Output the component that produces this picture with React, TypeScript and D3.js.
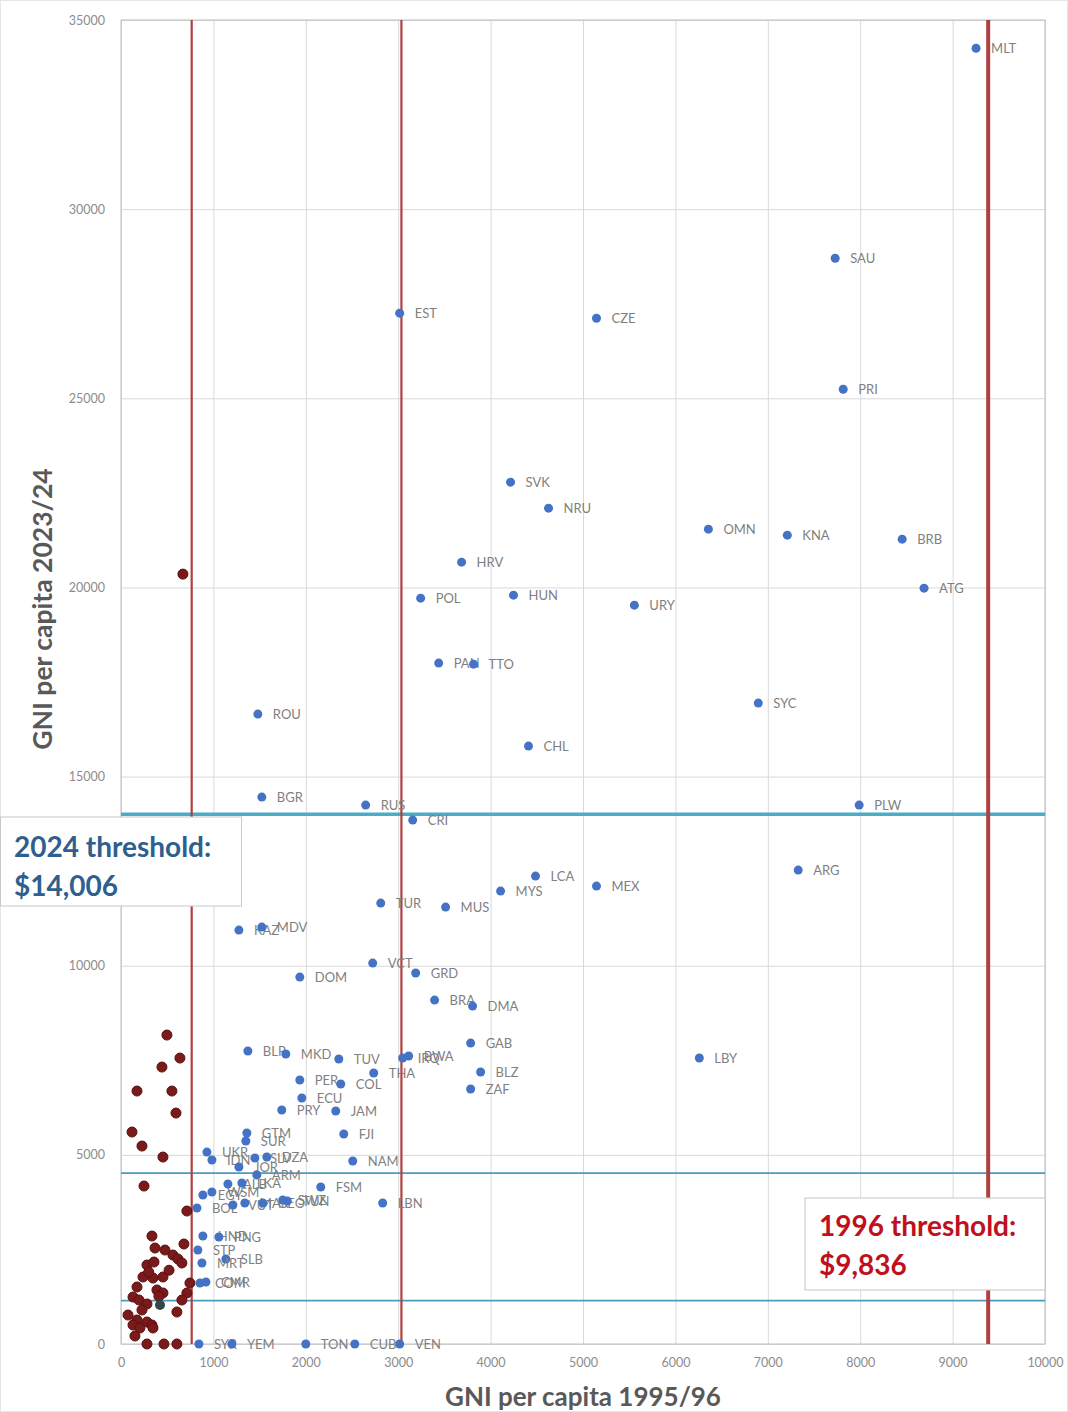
import { useEffect, useRef } from 'react'
import * as d3 from 'd3'

// Countries that were above the 1996 low-income line (labelled, blue)
const midCodes = [
  'MLT', 'SAU', 'EST', 'CZE', 'PRI', 'SVK', 'NRU', 'OMN', 'KNA', 'BRB',
  'HRV', 'ATG', 'POL', 'HUN', 'URY', 'PAN', 'TTO', 'SYC', 'ROU', 'CHL',
  'BGR', 'RUS', 'PLW', 'CRI', 'ARG', 'LCA', 'MEX', 'MYS', 'TUR', 'MUS',
  'KAZ', 'MDV', 'VCT', 'DOM', 'GRD', 'BRA', 'DMA', 'GAB', 'BLR', 'MKD',
  'TUV', 'IRQ', 'BWA', 'LBY', 'THA', 'BLZ', 'PER', 'COL', 'ZAF', 'ECU',
  'PRY', 'JAM', 'GTM', 'SUR', 'FJI', 'UKR', 'IDN', 'JOR', 'SLV', 'DZA',
  'ARM', 'NAM', 'EGY', 'WSM', 'ALB', 'LKA', 'FSM', 'BOL', 'VUT', 'MAR',
  'GEO', 'SWZ', 'TUN', 'LBN', 'HND', 'PNG', 'STP', 'SLB', 'MRT', 'COM',
  'CMR', 'SYR', 'YEM', 'TON', 'CUB', 'VEN',
]
const midGni1996 = [
  9254, 7729, 3016, 5146, 7816, 4216, 4627, 6357, 7211, 8454,
  3686, 8691, 3243, 4248, 5556, 3438, 3816, 6897, 1481, 4410,
  1524, 2648, 7989, 3157, 7329, 4486, 5146, 4108, 2811, 3513,
  1276, 1524, 2724, 1935, 3189, 3394, 3805, 3784, 1373, 1784,
  2357, 3048, 3113, 6259, 2735, 3892, 1935, 2378, 3784, 1957,
  1740, 2324, 1362, 1351, 2411, 930, 984, 1276, 1449, 1578,
  1470, 2508, 886, 984, 1157, 1308, 2162, 822, 1211, 1340,
  1535, 1751, 1800, 2832, 886, 1059, 832, 1135, 876, 854,
  919, 843, 1200, 2000, 2530, 3016,
]
const midGni2024 = [
  34253, 28703, 27250, 27117, 25240, 22782, 22095, 21540, 21382, 21276,
  20668, 19981, 19717, 19796, 19532, 17999, 17972, 16942, 16651, 15805,
  14457, 14246, 14246, 13849, 12528, 12369, 12105, 11973, 11656, 11550,
  10942, 11021, 10070, 9700, 9806, 9092, 8933, 7955, 7744, 7665,
  7533, 7559, 7612, 7559, 7163, 7189, 6978, 6872, 6740, 6502,
  6185, 6158, 5577, 5365, 5550, 5074, 4863, 4678, 4916, 4942,
  4467, 4837, 3938, 4017, 4229, 4255, 4150, 3594, 3674, 3727,
  3727, 3806, 3780, 3727, 2854, 2828, 2484, 2247, 2141, 1612,
  1639, 0, 0, 0, 0, 0,
]

// Countries that were low income in 1996 (unlabelled, dark red)
const lowGni1996 = [
  497, 638, 443, 173, 551, 595, 119, 227, 454, 249,
  713, 335, 681, 368, 476, 562, 616, 659, 281, 357,
  238, 346, 454, 746, 173, 389, 454, 713, 130, 195,
  281, 659, 76, 173, 227, 281, 335, 605, 130, 205,
  346, 151, 281, 465, 605, 670, 300, 520, 410,
]
const lowGni2024 = [
  8167, 7559, 7321, 6687, 6687, 6105, 5603, 5233, 4942, 4176,
  3515, 2854, 2643, 2537, 2484, 2352, 2247, 2141, 2088, 2167,
  1771, 1744, 1771, 1612, 1507, 1427, 1348, 1348, 1242, 1163,
  1057, 1163, 766, 634, 899, 581, 502, 846, 502, 423,
  423, 211, 0, 0, 0, 20352, 1900, 1950, 1260,
]
const otherGni1996 = [422]
const otherGni2024 = [1031]

// Threshold lines
const thresholds1996 = [765, 3035, 9385]
const thresholds2024 = [1145, 4515, 14005]

const xTicks = d3.range(0, 10001, 1000)
const yTicks = d3.range(0, 35001, 5000)

export default function App() {
  const svgRef = useRef<SVGSVGElement>(null)

  useEffect(() => {
    if (!svgRef.current) return
    const width = 1068
    const height = 1412
    const margin = { top: 20, right: 23, bottom: 68, left: 121 }
    const innerW = width - margin.left - margin.right
    const innerH = height - margin.top - margin.bottom

    const svg = d3.select(svgRef.current)
    svg.selectAll('*').remove()
    svg.attr('width', width).attr('height', height)

    svg.append('rect')
      .attr('x', 0.5).attr('y', 0.5)
      .attr('width', width - 1).attr('height', height - 1)
      .attr('fill', '#fff').attr('stroke', '#e6e6e6')

    const g = svg.append('g').attr('transform', `translate(${margin.left},${margin.top})`)

    const x = d3.scaleLinear().domain([0, 10000]).range([0, innerW])
    const y = d3.scaleLinear().domain([0, 35000]).range([innerH, 0])

    // Grid
    g.append('g')
      .call(d3.axisBottom(x).tickValues(xTicks).tickSize(innerH).tickFormat(() => ''))
      .call(s => s.select('.domain').remove())
      .selectAll('line').attr('stroke', '#d9d9d9')
    g.append('g')
      .call(d3.axisLeft(y).tickValues(yTicks).tickSize(-innerW).tickFormat(() => ''))
      .call(s => s.select('.domain').remove())
      .selectAll('line').attr('stroke', '#d9d9d9')
    g.append('rect')
      .attr('width', innerW).attr('height', innerH)
      .attr('fill', 'none').attr('stroke', '#bfbfbf')

    // Tick labels
    const xAxis = g.append('g')
      .attr('transform', `translate(0,${innerH})`)
      .call(d3.axisBottom(x).tickValues(xTicks).tickSize(0).tickPadding(14).tickFormat(d3.format('d')))
    xAxis.select('.domain').remove()
    xAxis.selectAll('text').attr('font-family', 'Lato, sans-serif').attr('font-size', 12.5).attr('fill', '#8c8c8c')

    const yAxis = g.append('g')
      .call(d3.axisLeft(y).tickValues(yTicks).tickSize(0).tickPadding(16).tickFormat(d3.format('d')))
    yAxis.select('.domain').remove()
    yAxis.selectAll('text').attr('font-family', 'Lato, sans-serif').attr('font-size', 12.5).attr('fill', '#8c8c8c')

    // Threshold lines
    g.selectAll('.h-thr')
      .data(thresholds2024)
      .join('line')
      .attr('x1', 0).attr('x2', innerW)
      .attr('y1', d => y(d)).attr('y2', d => y(d))
      .attr('stroke', (d, i) => (i === 2 ? '#4bacc6' : '#4a9bbf'))
      .attr('stroke-width', (d, i) => (i === 2 ? 3.5 : 1.8))

    g.selectAll('.v-thr')
      .data(thresholds1996)
      .join('line')
      .attr('x1', d => x(d)).attr('x2', d => x(d))
      .attr('y1', 0).attr('y2', innerH)
      .attr('stroke', '#b04040')
      .attr('stroke-width', (d, i) => (i === 2 ? 4 : 2.2))

    const font = 'Lato, "Open Sans", sans-serif'

    // Low income 1996 countries
    g.selectAll('.low')
      .data(d3.range(lowGni1996.length))
      .join('circle')
      .attr('cx', i => x(lowGni1996[i]))
      .attr('cy', i => y(lowGni2024[i]))
      .attr('r', 5)
      .attr('fill', '#7a1a1a')
      .attr('stroke', '#5a1010')
      .attr('stroke-width', 1)

    g.selectAll('.other')
      .data(d3.range(otherGni1996.length))
      .join('circle')
      .attr('cx', i => x(otherGni1996[i]))
      .attr('cy', i => y(otherGni2024[i]))
      .attr('r', 5)
      .attr('fill', '#2f4a48')

    // Labelled countries
    const mid = g.selectAll('.mid')
      .data(d3.range(midCodes.length))
      .join('g')
      .attr('transform', i => `translate(${x(midGni1996[i])},${y(midGni2024[i])})`)
    mid.append('circle')
      .attr('r', 4.5)
      .attr('fill', '#4472c4')
    mid.append('text')
      .attr('x', 15).attr('y', 5)
      .attr('font-family', font)
      .attr('font-size', 13)
      .attr('fill', '#7f7f7f')
      .text(i => midCodes[i])

    // Axis titles
    svg.append('text')
      .attr('x', margin.left + innerW / 2)
      .attr('y', 1406)
      .attr('text-anchor', 'middle')
      .attr('font-family', font)
      .attr('font-weight', 'bold')
      .attr('font-size', 26)
      .attr('fill', '#595959')
      .text('GNI per capita 1995/96')
    svg.append('text')
      .attr('transform', 'translate(52,609) rotate(-90)')
      .attr('text-anchor', 'middle')
      .attr('font-family', font)
      .attr('font-weight', 'bold')
      .attr('font-size', 26.5)
      .attr('fill', '#595959')
      .text('GNI per capita 2023/24')

    // Threshold boxes
    const box2024 = svg.append('g').attr('transform', 'translate(0,817)')
    box2024.append('rect')
      .attr('x', 0.5).attr('width', 241).attr('height', 89)
      .attr('fill', '#fff').attr('stroke', '#c8c8c8')
    box2024.selectAll('text')
      .data(['2024 threshold:', '$14,006'])
      .join('text')
      .attr('x', 14).attr('y', (d, i) => 40 + i * 39)
      .attr('font-family', font).attr('font-weight', 'bold').attr('font-size', 28)
      .attr('fill', '#2e5f8f')
      .text(d => d)

    const box1996 = svg.append('g').attr('transform', 'translate(805,1198)')
    box1996.append('rect')
      .attr('width', 240).attr('height', 92)
      .attr('fill', '#fff').attr('stroke', '#c8c8c8')
    box1996.selectAll('text')
      .data(['1996 threshold:', '$9,836'])
      .join('text')
      .attr('x', 14).attr('y', (d, i) => 38 + i * 39)
      .attr('font-family', font).attr('font-weight', 'bold').attr('font-size', 28)
      .attr('fill', '#c0101c')
      .text(d => d)
  }, [])

  return (
    <svg
      ref={svgRef}
      style={{ position: 'absolute', top: 0, left: 0, display: 'block' }}
    />
  )
}
